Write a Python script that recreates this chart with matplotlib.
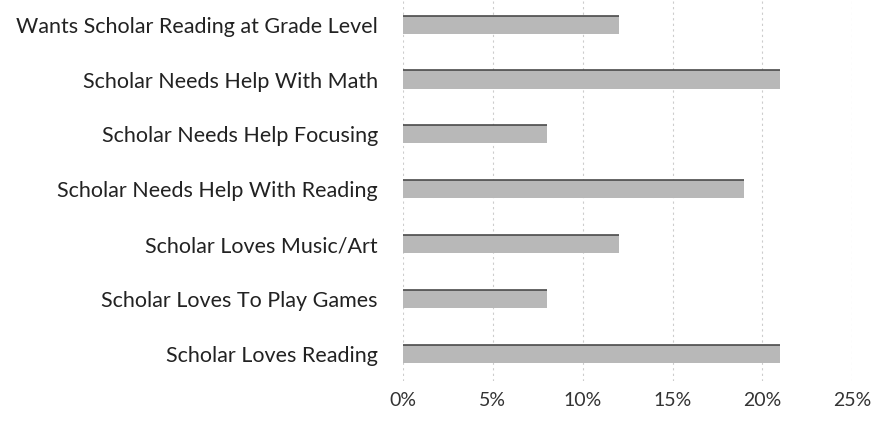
import numpy as np
import matplotlib.pyplot as plt
from matplotlib.ticker import PercentFormatter

# categories from bottom to top
categories = [
    "Scholar Loves Reading",
    "Scholar Loves To Play Games",
    "Scholar Loves Music/Art",
    "Scholar Needs Help With Reading",
    "Scholar Needs Help Focusing",
    "Scholar Needs Help With Math",
    "Wants Scholar Reading at Grade Level",
]
values = [21, 8, 12, 19, 8, 21, 12]
xticks = [0, 5, 10, 15, 20, 25]

plt.rcParams['font.family'] = ['Lato', 'DejaVu Sans']

fig = plt.figure(figsize=(8.76, 4.26), dpi=100)
ax = fig.add_axes([0.46, 0.105, 0.513, 0.895])

y = np.arange(len(categories))
h = 0.33
ax.barh(y, values, height=h, color="#b8b8b8", edgecolor="none", zorder=2)
# darker top edge like the scan
ax.hlines(y + h / 2, 0, values, color="#4a4a4a", lw=1.2, zorder=3)

ax.set_yticks(y)
ax.set_yticklabels(categories, fontsize=15.5, color="#222222")
ax.set_xticks(xticks)
ax.xaxis.set_major_formatter(PercentFormatter(decimals=0))
ax.tick_params(axis="x", labelsize=14, colors="#333333", length=0, pad=8)
ax.tick_params(axis="y", length=0, pad=18)

ax.set_xlim(0, 25)
ax.set_ylim(-0.5, 6.45)
ax.grid(axis="x", color="#cccccc", lw=0.8, linestyle=(0, (2, 3)), zorder=0)
for s in ax.spines.values():
    s.set_visible(False)

fig.savefig("out.png", dpi=100)
